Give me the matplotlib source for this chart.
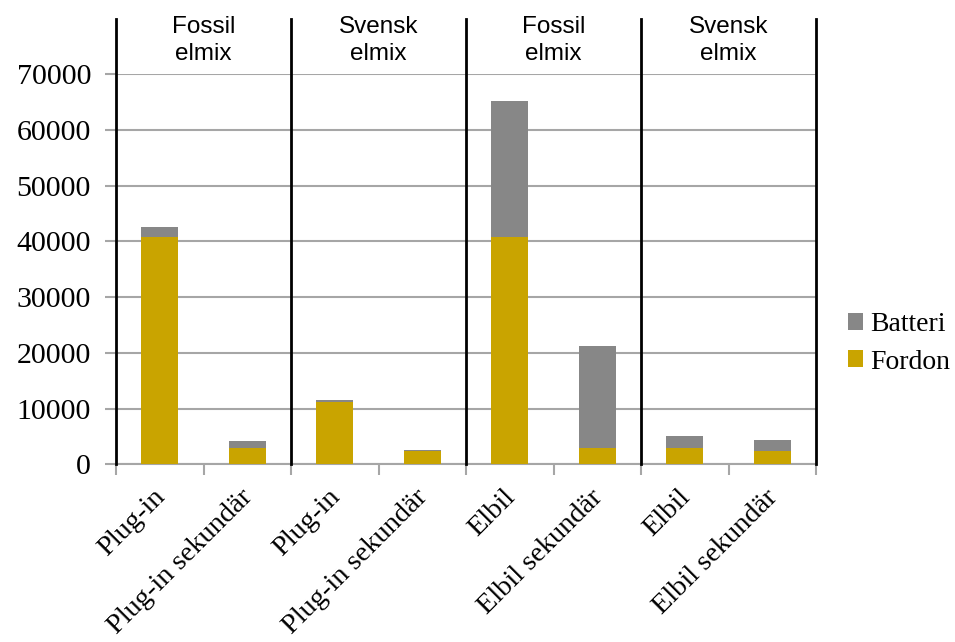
import matplotlib.pyplot as plt
import matplotlib.transforms as mtransforms
import numpy as np

# utsläpp per fordonstyp, kg CO2
kategorier = ['Plug-in', 'Plug-in sekundär', 'Plug-in', 'Plug-in sekundär',
              'Elbil', 'Elbil sekundär', 'Elbil', 'Elbil sekundär']
fordon = [40800, 3000, 11250, 2400, 40800, 3000, 3000, 2400]
batteri = [1700, 1150, 300, 200, 24400, 18200, 2050, 1950]
grupper = ['Fossil\nelmix', 'Svensk\nelmix', 'Fossil\nelmix', 'Svensk\nelmix']
yticks = [0, 10000, 20000, 30000, 40000, 50000, 60000, 70000]

GULD = '#c9a400'
GRA = '#878787'
RUTNAT = '#a6a6a6'

fig = plt.figure(figsize=(9.55, 6.42), dpi=100)
ax = fig.add_axes([0.1215, 0.2766, 0.733, 0.608])

x = np.arange(len(kategorier))
ax.bar(x, fordon, width=0.42, color=GULD, label='Fordon', zorder=3)
ax.bar(x, batteri, bottom=fordon, width=0.42, color=GRA, label='Batteri',
       zorder=3)

ax.set_xlim(-0.5, len(kategorier) - 0.5)
ax.set_ylim(0, 70000)
ax.set_yticks(yticks)
ax.set_yticklabels([str(v) for v in yticks], family='Liberation Serif', fontsize=21.5)
ax.yaxis.grid(True, color=RUTNAT, linewidth=1.5, zorder=0)
ax.tick_params(axis='y', length=8, width=1.5, color=RUTNAT, pad=10)

# ticks på kategorigränserna, etiketter i mitten
ax.set_xticks(np.arange(len(kategorier) + 1) - 0.5)
ax.set_xticklabels([])
ax.set_xticks(x, minor=True)
ax.set_xticklabels(kategorier, minor=True, rotation=45, ha='right',
                   va='center', rotation_mode='anchor',
                   family='Liberation Serif', fontsize=20.5)
ax.tick_params(axis='x', which='major', length=8, width=1.5, color=RUTNAT)
ax.tick_params(axis='x', which='minor', length=0, pad=21)
offset = mtransforms.ScaledTranslation(2 / 100, 0, fig.dpi_scale_trans)
for lbl in ax.get_xticklabels(minor=True):
    lbl.set_transform(lbl.get_transform() + offset)

for side in ['top', 'right', 'left']:
    ax.spines[side].set_visible(False)
ax.spines['bottom'].set_color(RUTNAT)
ax.spines['bottom'].set_linewidth(1.5)

# svarta avdelare mellan grupperna, sträcker sig upp ovanför ytan
trans = ax.get_xaxis_transform()
for g in range(len(grupper) + 1):
    ax.plot([g * 2 - 0.5, g * 2 - 0.5], [0, 1.14], color='black',
            linewidth=2, transform=trans, clip_on=False, zorder=4)
for g, namn in enumerate(grupper):
    ax.text(g * 2 + 0.5, 1.085, namn, transform=trans, ha='center',
            va='center', fontsize=17.5, family='Liberation Sans',
            linespacing=1.3)

h, l = ax.get_legend_handles_labels()
leg = ax.legend(h[::-1], l[::-1], loc='center left',
                bbox_to_anchor=(1.01, 0.31), frameon=False,
                prop={'family': 'Liberation Serif', 'size': 20},
                handlelength=0.55, handleheight=0.55, handletextpad=0.25,
                labelspacing=0.45)

plt.savefig('out.png', dpi=100)
